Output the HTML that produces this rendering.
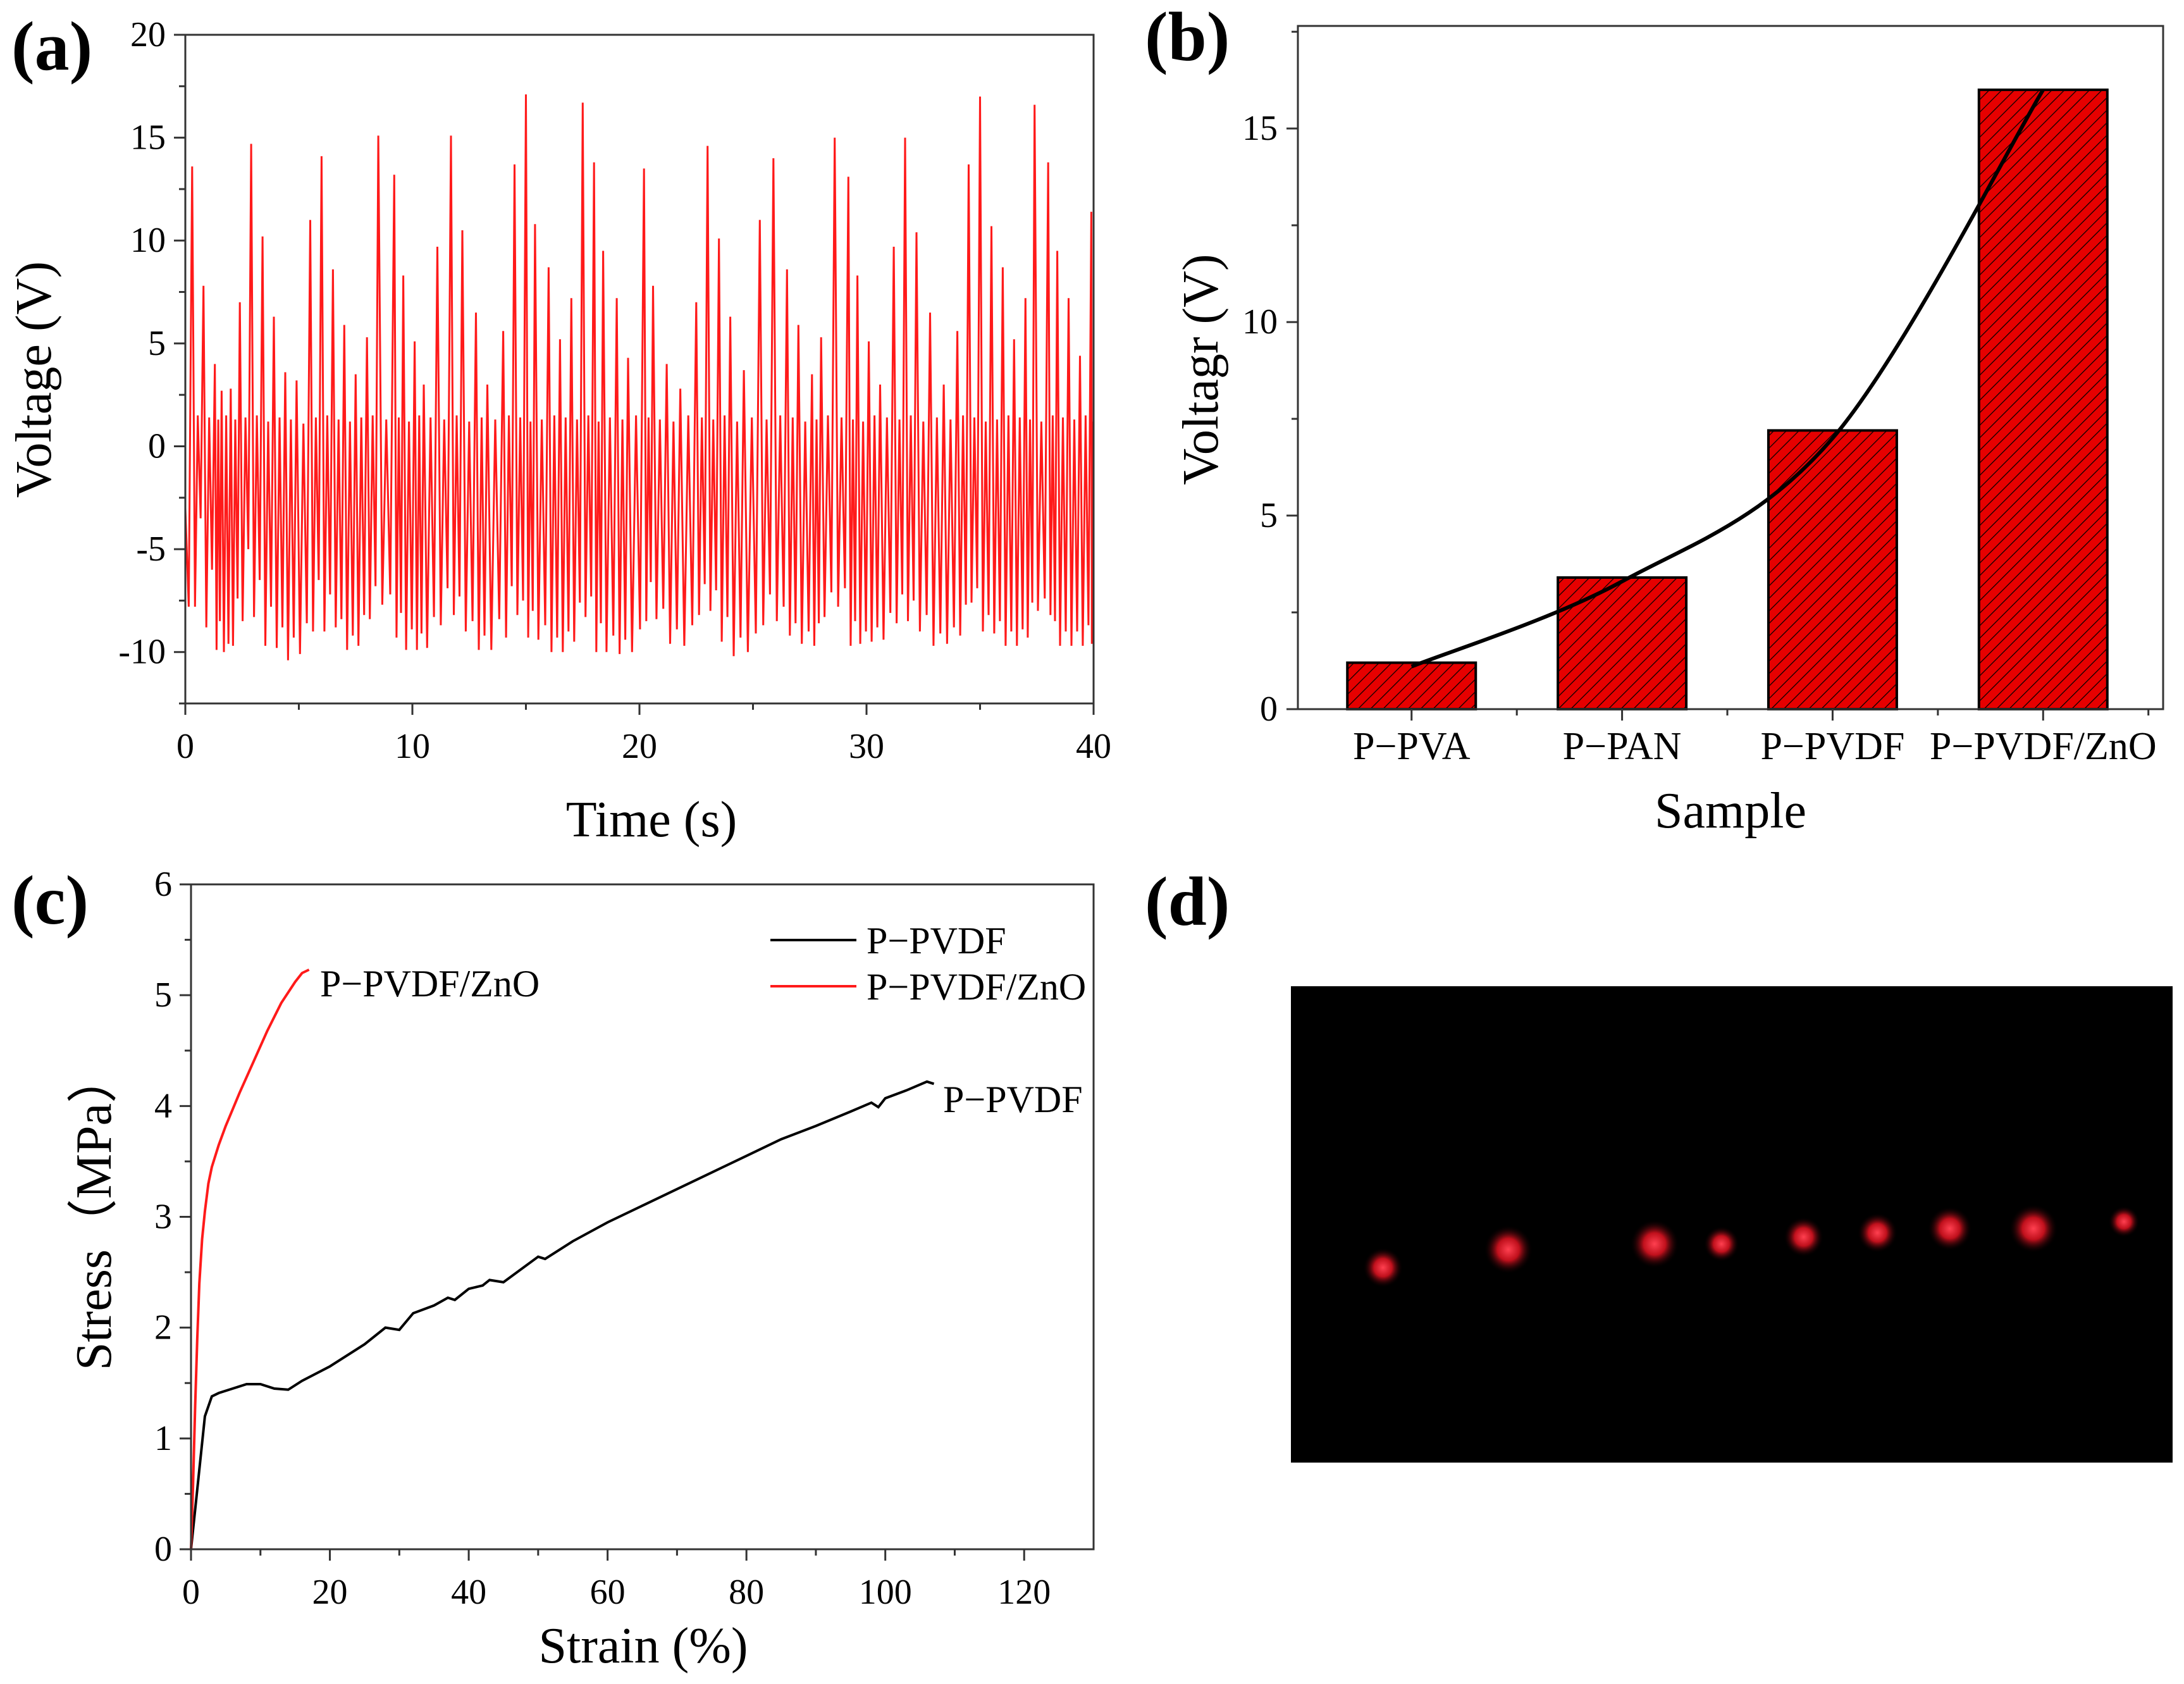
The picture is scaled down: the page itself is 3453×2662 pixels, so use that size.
<!DOCTYPE html>
<html><head><meta charset="utf-8">
<style>
html,body{margin:0;padding:0;background:#fff;}
svg{display:block;}
text{font-family:"Liberation Serif","Times New Roman",serif;}
</style></head>
<body>
<svg id="fig" width="3453" height="2662" viewBox="0 0 3453 2662" xmlns="http://www.w3.org/2000/svg" font-family="Liberation Serif, serif">
<defs>
<pattern id="hatch" patternUnits="userSpaceOnUse" width="14" height="14" patternTransform="rotate(45)">
<rect width="14" height="14" fill="#e60000"/>
<line x1="0" y1="0" x2="0" y2="14" stroke="#000" stroke-width="2.5"/>
</pattern>
<radialGradient id="glow"><stop offset="0" stop-color="#ff4050"/><stop offset="0.45" stop-color="#c0101c"/><stop offset="1" stop-color="#000" stop-opacity="0"/></radialGradient>
</defs>
</svg>
<script>
// ---- Panel (a) data ----
const aPeakTimes=[0.3,0.8,1.3,1.6,2,2.4,2.9,3.4,3.9,4.4,4.9,5.5,6,6.5,7,7.5,8,8.5,9.2,9.6,10.1,10.5,11.1,11.7,12.2,12.8,13.3,14,14.5,15,15.4,16,16.5,17,17.5,18,18.4,19,19.5,20.2,20.6,21.2,21.8,22.5,23,23.5,24,24.6,25.3,25.9,26.5,27,27.6,28,28.6,29.2,29.6,30.1,30.6,31.2,31.7,32.2,32.8,33.4,34,34.5,35,35.5,36,36.5,37,37.4,38,38.4,38.9,39.4,39.9];
const aPeakValues=[13.6,7.8,4,2.7,2.8,7,14.7,10.2,6.3,3.6,3.2,11,14.1,8.6,5.9,3.5,5.3,15.1,13.2,8.3,5.1,3,9.7,15.1,10.5,6.5,3,5.6,13.7,17.1,10.8,8.7,5.2,7.2,16.7,13.8,9.5,7.2,4.3,13.5,7.8,4,2.8,7,14.6,10.1,6.3,3.7,11,14,8.6,5.9,3.5,5.3,15,13.1,8.3,5.1,3,9.7,15,10.4,6.5,3,5.6,13.7,17,10.7,8.7,5.2,7.2,16.6,13.8,9.5,7.2,4.4,11.4];
const aTroughA=[-7.8,-8.8,-9.9,-10,-9.7,-8.5,-8.3,-9.7,-9.8,-10.4,-10.1,-9,-9,-8.8,-9.9,-9.7,-8.4,-7.7,-9.3,-9.9,-9.9,-9.8,-8.7,-8.2,-9,-9.9,-9.9,-9.3,-8.2,-9.3,-9.4,-10,-10,-9.5,-8.3,-10,-10,-10.1,-10,-8.5,-8.4,-9.6,-9.7,-8.2,-8,-9.5,-10.2,-10,-8.7,-8.5,-9.2,-9.6,-9.7,-8.3,-7.8,-9.7,-9.6,-9.5,-9.4,-8.6,-8.5,-9,-9.7,-9.6,-9.2,-7.6,-9,-9.1,-9.7,-9.7,-9.3,-8,-8.2,-9.7,-9.7,-9.7,-9.6];
const aTroughB=[-3.5,-6,-8.5,-9.6,-7.4,-5,-6.5,-7.8,-8.8,-9.3,-8.6,-6.5,-7.2,-8.4,-9.2,-8.2,-6.8,-7.2,-8.1,-8.9,-9.1,-8.3,-6.9,-7.3,-8.5,-9.2,-8.4,-6.8,-7.5,-8,-8.7,-9.3,-9,-7.6,-7.3,-8.6,-9.2,-9.4,-8.9,-6.6,-7.9,-8.9,-8.7,-6.7,-7,-8.3,-9.3,-9.1,-7.2,-7.8,-8.6,-9,-8.6,-7.1,-6.9,-8.5,-9,-8.8,-8.1,-7.2,-7.5,-8.2,-9.1,-8.8,-7.7,-6.9,-8.2,-8.5,-9,-8.9,-7.6,-7.4,-8.5,-9,-9,-8.7,-8];
const aSmall=[1.5,1.4,1.3,1.5,1.3,1.4,1.5,1.2,1.4,1.3,1.1,1.4,1.5,1.3,1.2,1.4,1.5,1.3,1.4,1.2,1.5,1.4,1.3,1.5,1.2,1.4,1.3,1.5,1.4,1.2,1.3,1.5,1.4,1.3,1.5,1.2,1.4,1.3,1.5,1.4,1.3,1.2,1.5,1.4,1.3,1.5,1.2,1.4,1.3,1.5,1.4,1.2,1.3,1.5,1.4,1.3,1.2,1.5,1.4,1.3,1.5,1.2,1.4,1.3,1.5,1.4,1.2,1.3,1.5,1.4,1.3,1.2,1.5,1.4,1.3,1.5,1.2];
const aXTicks=[0,10,20,30,40];
const aYTicks=[-10,-5,0,5,10,15,20];
// ---- Panel (b) data ----
const bCategories=["P\u2212PVA","P\u2212PAN","P\u2212PVDF","P\u2212PVDF/ZnO"];
const bValues=[1.2,3.4,7.2,16.0];
const bFitValues=[1.1,3.3,7.0,16.0];
const bYTicks=[0,5,10,15];
// ---- Panel (c) data ----
const cPvdfStrain=[0,1,2,3,4,6,8,10,12,14,16,20,25,28,30,32,35,37,38,40,42,43,45,50,51,55,60,65,70,75,80,85,90,95,98,99,100,103,106,107];
const cPvdfStress=[0,0.6,1.2,1.38,1.41,1.45,1.49,1.49,1.45,1.44,1.52,1.65,1.85,2.0,1.98,2.13,2.2,2.27,2.25,2.35,2.38,2.43,2.41,2.64,2.62,2.78,2.95,3.1,3.25,3.4,3.55,3.7,3.82,3.95,4.03,3.99,4.07,4.14,4.22,4.2];
const cZnoStrain=[0,0.3,0.6,0.9,1.2,1.6,2,2.5,3,4,5,6,7,9,11,13,15,16,17];
const cZnoStress=[0,0.6,1.3,1.9,2.4,2.8,3.05,3.3,3.45,3.65,3.82,3.97,4.12,4.4,4.68,4.93,5.12,5.2,5.23];
const cXTicks=[0,20,40,60,80,100,120];
const cYTicks=[0,1,2,3,4,5,6];
// ---- Panel (d) spots ----
const dSpotX=[993,1083,1188,1236,1295,1348,1400,1460,1525];
const dSpotY=[910,897,893,893,888,885,882,882,877];
const dSpotR=[9,11,11,8,9,9,10,11,7];

const NS="http://www.w3.org/2000/svg";
const svg=document.getElementById('fig');
const FF='Liberation Serif, serif';
function el(tag,attrs,parent,txt){const e=document.createElementNS(NS,tag);for(const k in attrs)e.setAttribute(k,attrs[k]);if(tag==='text')e.setAttribute('font-family',FF);if(txt!==undefined)e.textContent=txt;(parent||svg).appendChild(e);return e;}
function lin(d0,d1,r0,r1){return v=>r0+(v-d0)/(d1-d0)*(r1-r0);}

// ===== Panel (a) =====
const ga=el('g',{});


const ax=lin(0,40,293,1729), ay=lin(-12.5,20,1112,55);
let pts=[];
for(let i=0;i<aPeakTimes.length;i++){
  const t=aPeakTimes[i];
  const d=(i<aPeakTimes.length-1?aPeakTimes[i+1]:40)-t;
  if(i===0){pts.push([0,-3]);pts.push([0.15,aTroughA[0]]);}
  pts.push([t,aPeakValues[i]]);
  pts.push([t+0.25*d,aTroughA[i]]);
  pts.push([t+0.5*d,aSmall[i]]);
  if(t+0.75*d<=40)pts.push([t+0.75*d,aTroughB[i]]);
}
const sig=el('polyline',{points:pts.filter(p=>p[0]<=40).map(p=>ax(p[0]).toFixed(1)+','+ay(p[1]).toFixed(1)).join(' '),fill:'none',stroke:'#ff1a1a','stroke-width':3},ga);


el('rect',{x:293,y:55,width:1436,height:1057,fill:'none',stroke:'#333','stroke-width':3},ga);
aYTicks.forEach(v=>{el('line',{x1:293,x2:275,y1:ay(v),y2:ay(v),stroke:'#333','stroke-width':3},ga);
  const t=el('text',{x:262,y:ay(v)+18,'text-anchor':'end','font-size':56},ga,String(v));});
for(let v=-12.5;v<=20;v+=2.5){if(v%5!==0)el('line',{x1:293,x2:283,y1:ay(v),y2:ay(v),stroke:'#333','stroke-width':3},ga);}
aXTicks.forEach(v=>{el('line',{x1:ax(v),x2:ax(v),y1:1112,y2:1130,stroke:'#333','stroke-width':3},ga);
  const t=el('text',{x:ax(v),y:1198,'text-anchor':'middle','font-size':56},ga,String(v));});
for(let v=5;v<40;v+=10)el('line',{x1:ax(v),x2:ax(v),y1:1112,y2:1122,stroke:'#333','stroke-width':3},ga);
let t=el('text',{x:1030,y:1322,'text-anchor':'middle','font-size':80},ga,'Time (s)');
t=el('text',{x:0,y:0,transform:'translate(80,600) rotate(-90)','text-anchor':'middle','font-size':80},ga,'Voltage (V)');
t=el('text',{x:18,y:110,'font-size':110,'font-weight':'bold'},ga,'(a)');

// ===== Panel (b) =====
const gb=el('g',{});


const bx=lin(0.46,4.57,2052,3420), by=lin(0,17.65,1121,41);
const bw=203;
bValues.forEach((v,i)=>{const r=el('rect',{x:bx(i+1)-bw/2,y:by(v),width:bw,height:by(0)-by(v),fill:'url(#hatch)',stroke:'#000','stroke-width':4},gb);
  });
{const P=bFitValues.map((v,i)=>[bx(i+1),by(v)]);let d='M'+P[0][0]+','+P[0][1];
 for(let i=0;i<P.length-1;i++){const p0=P[Math.max(0,i-1)],p1=P[i],p2=P[i+1],p3=P[Math.min(P.length-1,i+2)];
  d+=` C${p1[0]+(p2[0]-p0[0])/6},${p1[1]+(p2[1]-p0[1])/6} ${p2[0]-(p3[0]-p1[0])/6},${p2[1]-(p3[1]-p1[1])/6} ${p2[0]},${p2[1]}`;}
 const c=el('path',{d:d,fill:'none',stroke:'#000','stroke-width':6},gb);}
el('rect',{x:2052,y:41,width:1368,height:1080,fill:'none',stroke:'#333','stroke-width':3},gb);
bYTicks.forEach(v=>{el('line',{x1:2052,x2:2034,y1:by(v),y2:by(v),stroke:'#333','stroke-width':3},gb);
  const t=el('text',{x:2020,y:by(v)+18,'text-anchor':'end','font-size':56},gb,String(v));});
for(let v=2.5;v<17.6;v+=5)el('line',{x1:2052,x2:2042,y1:by(v),y2:by(v),stroke:'#333','stroke-width':3},gb);
bCategories.forEach((c,i)=>{el('line',{x1:bx(i+1),x2:bx(i+1),y1:1121,y2:1139,stroke:'#333','stroke-width':3},gb);
  const t=el('text',{x:bx(i+1),y:1200,'text-anchor':'middle','font-size':62},gb,c);});
for(let k=1;k<=4;k++)el('line',{x1:bx(k+0.5),x2:bx(k+0.5),y1:1121,y2:1131,stroke:'#333','stroke-width':3},gb);
t=el('text',{x:2736,y:1308,'text-anchor':'middle','font-size':80},gb,'Sample');
t=el('text',{x:0,y:0,transform:'translate(1925,584) rotate(-90)','text-anchor':'middle','font-size':80},gb,'Voltagr (V)');
t=el('text',{x:1810,y:95,'font-size':110,'font-weight':'bold'},gb,'(b)');

// ===== Panel (c) =====
const gc=el('g',{});


const cx=lin(0,130,302,1729), cy=lin(0,6,2449,1398);
let l=el('polyline',{points:cPvdfStrain.map((s,i)=>cx(s)+','+cy(cPvdfStress[i])).join(' '),fill:'none',stroke:'#000','stroke-width':4},gc);

l=el('polyline',{points:cZnoStrain.map((s,i)=>cx(s)+','+cy(cZnoStress[i])).join(' '),fill:'none',stroke:'#ff1a1a','stroke-width':4,'stroke-linejoin':'round'},gc);

el('rect',{x:302,y:1398,width:1427,height:1051,fill:'none',stroke:'#333','stroke-width':3},gc);
cYTicks.forEach(v=>{el('line',{x1:302,x2:284,y1:cy(v),y2:cy(v),stroke:'#333','stroke-width':3},gc);
  const t=el('text',{x:272,y:cy(v)+18,'text-anchor':'end','font-size':56},gc,String(v));});
for(let v=0.5;v<6;v+=1)el('line',{x1:302,x2:292,y1:cy(v),y2:cy(v),stroke:'#333','stroke-width':3},gc);
cXTicks.forEach(v=>{el('line',{x1:cx(v),x2:cx(v),y1:2449,y2:2467,stroke:'#333','stroke-width':3},gc);
  const t=el('text',{x:cx(v),y:2535,'text-anchor':'middle','font-size':56},gc,String(v));});
for(let v=10;v<130;v+=20)el('line',{x1:cx(v),x2:cx(v),y1:2449,y2:2459,stroke:'#333','stroke-width':3},gc);
t=el('text',{x:1017,y:2628,'text-anchor':'middle','font-size':80},gc,'Strain (%)');
t=el('text',{x:0,y:0,transform:'translate(175,1915) rotate(-90)','text-anchor':'middle','font-size':80},gc,'Stress\uFF08MPa\uFF09');
t=el('text',{x:18,y:1460,'font-size':110,'font-weight':'bold'},gc,'(c)');
t=el('text',{x:506,y:1575,'font-size':60},gc,'P\u2212PVDF/ZnO');
t=el('text',{x:1491,y:1758,'font-size':60},gc,'P\u2212PVDF');
el('line',{x1:1218,x2:1354,y1:1486,y2:1486,stroke:'#000','stroke-width':4},gc);
t=el('text',{x:1370,y:1507,'font-size':60},gc,'P\u2212PVDF');
el('line',{x1:1218,x2:1354,y1:1559,y2:1559,stroke:'#ff1a1a','stroke-width':4},gc);
t=el('text',{x:1370,y:1580,'font-size':60},gc,'P\u2212PVDF/ZnO');

// ===== Panel (d) =====
const gd=el('g',{});


const ph=el('rect',{x:2041,y:1559,width:1394,height:753,fill:'#000'},gd);

dSpotX.forEach((x,i)=>{const c=el('circle',{cx:x*2.202,cy:dSpotY[i]*2.202,r:dSpotR[i]*2.202*1.6,fill:'url(#glow)'},gd);
  });
t=el('text',{x:1810,y:1462,'font-size':110,'font-weight':'bold'},gd,'(d)');
</script>
</body></html>
